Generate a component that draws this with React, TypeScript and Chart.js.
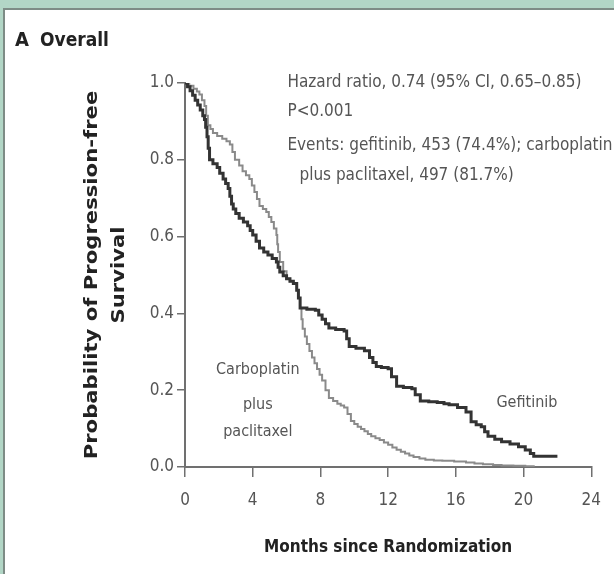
import { useEffect, useRef } from 'react';
import { Chart, registerables } from 'chart.js';

Chart.register(...registerables);

const FONT = '"Liberation Sans Narrow", "DejaVu Sans Condensed", "Liberation Sans", sans-serif';

const xTicks = [0, 4, 8, 12, 16, 20, 24];
const yTicks = [0, 0.2, 0.4, 0.6, 0.8, 1.0];

const gefitinibMonths = [0, 0.15, 0.3, 0.45, 0.6, 0.75, 0.9, 1.05, 1.15, 1.22, 1.3, 1.37, 1.45, 1.65, 1.9, 2.05, 2.25, 2.4, 2.55, 2.65, 2.75, 2.85, 3.0, 3.2, 3.45, 3.7, 3.85, 4.0, 4.2, 4.4, 4.65, 4.9, 5.15, 5.4, 5.5, 5.6, 5.8, 6.0, 6.2, 6.4, 6.6, 6.7, 6.8, 7.2, 7.7, 7.9, 8.1, 8.3, 8.5, 8.9, 9.4, 9.55, 9.7, 10.1, 10.6, 10.9, 11.1, 11.3, 11.6, 12.0, 12.2, 12.5, 12.9, 13.4, 13.6, 13.9, 14.4, 14.9, 15.3, 15.6, 16.1, 16.6, 16.9, 17.2, 17.5, 17.7, 17.9, 18.3, 18.7, 19.2, 19.7, 20.1, 20.4, 20.6, 22.0];
const gefitinibSurvival = [1.0, 0.99, 0.98, 0.968, 0.955, 0.943, 0.93, 0.915, 0.905, 0.885, 0.86, 0.83, 0.8, 0.79, 0.78, 0.765, 0.75, 0.738, 0.725, 0.705, 0.685, 0.672, 0.66, 0.648, 0.638, 0.628, 0.616, 0.604, 0.588, 0.57, 0.56, 0.552, 0.543, 0.534, 0.52, 0.508, 0.498, 0.49, 0.484, 0.478, 0.46, 0.44, 0.414, 0.411, 0.408, 0.396, 0.385, 0.373, 0.362, 0.358, 0.354, 0.334, 0.314, 0.309, 0.303, 0.285, 0.272, 0.262, 0.259, 0.256, 0.235, 0.21, 0.207, 0.204, 0.188, 0.172, 0.17, 0.168, 0.165, 0.162, 0.155, 0.143, 0.118, 0.11, 0.105, 0.092, 0.08, 0.072, 0.066, 0.06, 0.053, 0.044, 0.035, 0.028, 0.028];

const carboMonths = [0, 0.25, 0.5, 0.7, 0.85, 1.0, 1.15, 1.25, 1.35, 1.5, 1.65, 1.9, 2.2, 2.45, 2.65, 2.8, 2.95, 3.2, 3.4, 3.6, 3.8, 3.95, 4.1, 4.25, 4.4, 4.6, 4.8, 4.95, 5.1, 5.25, 5.4, 5.45, 5.5, 5.6, 5.8, 6.0, 6.2, 6.4, 6.6, 6.7, 6.8, 6.88, 6.95, 7.08, 7.2, 7.35, 7.5, 7.65, 7.8, 7.95, 8.1, 8.3, 8.5, 8.75, 9.0, 9.2, 9.4, 9.6, 9.8, 10.0, 10.2, 10.4, 10.6, 10.8, 11.0, 11.25, 11.5, 11.75, 12.0, 12.25, 12.5, 12.75, 13.0, 13.25, 13.5, 13.85, 14.2, 14.7, 15.2, 15.9, 16.6, 17.1, 17.6, 18.2, 18.7, 19.4, 20.1, 20.6];
const carboSurvival = [1.0, 0.993, 0.985, 0.978, 0.97, 0.955, 0.94, 0.915, 0.89, 0.88, 0.87, 0.862, 0.855, 0.848, 0.84, 0.82, 0.8, 0.785, 0.77, 0.76, 0.75, 0.733, 0.716, 0.698, 0.68, 0.672, 0.664, 0.651, 0.638, 0.621, 0.604, 0.58, 0.56, 0.534, 0.51, 0.49, 0.484, 0.478, 0.46, 0.44, 0.414, 0.385, 0.36, 0.34, 0.32, 0.302, 0.285, 0.27, 0.255, 0.24, 0.225, 0.2, 0.18, 0.172, 0.165, 0.16, 0.155, 0.138, 0.12, 0.112, 0.105, 0.099, 0.093, 0.086, 0.08, 0.075, 0.07, 0.064, 0.058, 0.051, 0.045, 0.04, 0.035, 0.03, 0.026, 0.022, 0.019, 0.017, 0.016, 0.014, 0.012, 0.009, 0.007, 0.005, 0.004, 0.003, 0.002, 0.0];

const panelLetter = 'A';
const panelTitle = 'Overall';
const xTitle = 'Months since Randomization';
const yTitleLines = ['Probability of Progression-free', 'Survival'];
const statLines = [
  'Hazard ratio, 0.74 (95% CI, 0.65–0.85)',
  'P<0.001',
  'Events: gefitinib, 453 (74.4%); carboplatin',
  'plus paclitaxel, 497 (81.7%)',
];
const gefitinibLabel = 'Gefitinib';
const carboLabelLines = ['Carboplatin', 'plus', 'paclitaxel'];

const textPlugin = {
  id: 'kmText',
  afterDraw(chart: any) {
    const { ctx, chartArea, scales } = chart;
    const xs = scales.x;
    const ys = scales.y;
    ctx.save();
    ctx.textBaseline = 'middle';

    // panel title
    ctx.fillStyle = '#222';
    ctx.textAlign = 'left';
    ctx.font = `bold 20px ${FONT}`;
    ctx.fillText(panelLetter, 15, 41);
    ctx.font = `bold 19px ${FONT}`;
    ctx.fillText(panelTitle, 40, 41);

    // y title (stretched along the axis)
    const cy = (chartArea.top + chartArea.bottom) / 2;
    ctx.font = `bold 17px ${FONT}`;
    const w0 = ctx.measureText(yTitleLines[0]).width;
    const stretch = (chartArea.bottom - chartArea.top) * 0.96 / w0;
    const offsets = [92, 65];
    yTitleLines.forEach((line, i) => {
      ctx.save();
      ctx.translate(chartArea.left - offsets[i], cy);
      ctx.rotate(-Math.PI / 2);
      ctx.scale(stretch, 1);
      ctx.textAlign = 'center';
      ctx.fillStyle = '#222';
      ctx.fillText(line, 0, 0);
      ctx.restore();
    });

    // x title
    ctx.font = `bold 17px ${FONT}`;
    ctx.textAlign = 'center';
    ctx.fillStyle = '#222';
    ctx.fillText(xTitle, (chartArea.left + chartArea.right) / 2, chartArea.bottom + 81);

    // statistics
    ctx.font = `17px ${FONT}`;
    ctx.fillStyle = '#555';
    ctx.textAlign = 'left';
    const sx = xs.getPixelForValue(6.05);
    const lineYs = [0, 29, 63, 93];
    statLines.forEach((line, i) => {
      const indent = i === 3 ? 12 : 0;
      ctx.fillText(line, sx + indent, chartArea.top + lineYs[i]);
    });

    // curve labels
    ctx.font = `16px ${FONT}`;
    ctx.textAlign = 'center';
    ctx.fillText(gefitinibLabel, xs.getPixelForValue(20.2), ys.getPixelForValue(0.167));
    const cx = xs.getPixelForValue(4.3);
    const cyVals = [0.253, 0.162, 0.092];
    carboLabelLines.forEach((line, i) => {
      ctx.fillText(line, cx, ys.getPixelForValue(cyVals[i]));
    });
    ctx.restore();
  },
};

export default function App() {
  const ref = useRef<HTMLCanvasElement | null>(null);

  useEffect(() => {
    if (!ref.current) return;
    const chart = new Chart(ref.current, {
      type: 'line',
      data: {
        datasets: [
          {
            label: 'Gefitinib',
            data: gefitinibMonths.map((m, i) => ({ x: m, y: gefitinibSurvival[i] })),
            borderColor: '#333333',
            borderWidth: 3,
            stepped: true,
            pointRadius: 0,
            fill: false,
          },
          {
            label: 'Carboplatin plus paclitaxel',
            data: carboMonths.map((m, i) => ({ x: m, y: carboSurvival[i] })),
            borderColor: '#8a8a8a',
            borderWidth: 2,
            stepped: true,
            pointRadius: 0,
            fill: false,
          },
        ],
      },
      options: {
        responsive: false,
        maintainAspectRatio: false,
        devicePixelRatio: 1,
        animation: false,
        layout: { padding: { left: 125, right: 21, top: 83, bottom: 17 } },
        plugins: {
          legend: { display: false },
          tooltip: { enabled: false },
        },
        scales: {
          x: {
            type: 'linear',
            min: 0,
            max: 24,
            afterBuildTicks: (s: any) => { s.ticks = xTicks.map((v) => ({ value: v })); },
            afterFit: (s: any) => { s.height = 90; },
            ticks: {
              color: '#555',
              font: { family: FONT, size: 17 },
              padding: 13,
              callback: (v: any) => String(v),
            },
            grid: { display: true, drawOnChartArea: false, drawTicks: true, tickLength: 10, color: '#707070', lineWidth: 1.5 },
            border: { display: true, color: '#707070', width: 2 },
          },
          y: {
            type: 'linear',
            min: 0,
            max: 1,
            afterBuildTicks: (s: any) => { s.ticks = yTicks.map((v) => ({ value: v })); },
            afterFit: (s: any) => { s.width = 60; },
            ticks: {
              color: '#555',
              font: { family: FONT, size: 17 },
              padding: 3,
              callback: (v: any) => Number(v).toFixed(1),
            },
            grid: { display: true, drawOnChartArea: false, drawTicks: true, tickLength: 8, color: '#707070', lineWidth: 1.5 },
            border: { display: true, color: '#707070', width: 2 },
          },
        },
      },
      plugins: [textPlugin],
    } as any);
    return () => chart.destroy();
  }, []);

  return (
    <div style={{ position: 'fixed', left: 0, top: 0, width: 614, height: 574, background: '#b2d6c6', overflow: 'hidden' }}>
      <div
        style={{
          position: 'absolute', left: 3, top: 8, right: 0, bottom: 0, background: '#fff',
          borderTop: '2px solid #7e8c86', borderLeft: '2px solid #7e8c86',
        }}
      />
      <canvas ref={ref} width={614} height={574} style={{ position: 'absolute', left: 0, top: 0, display: 'block' }} />
    </div>
  );
}
